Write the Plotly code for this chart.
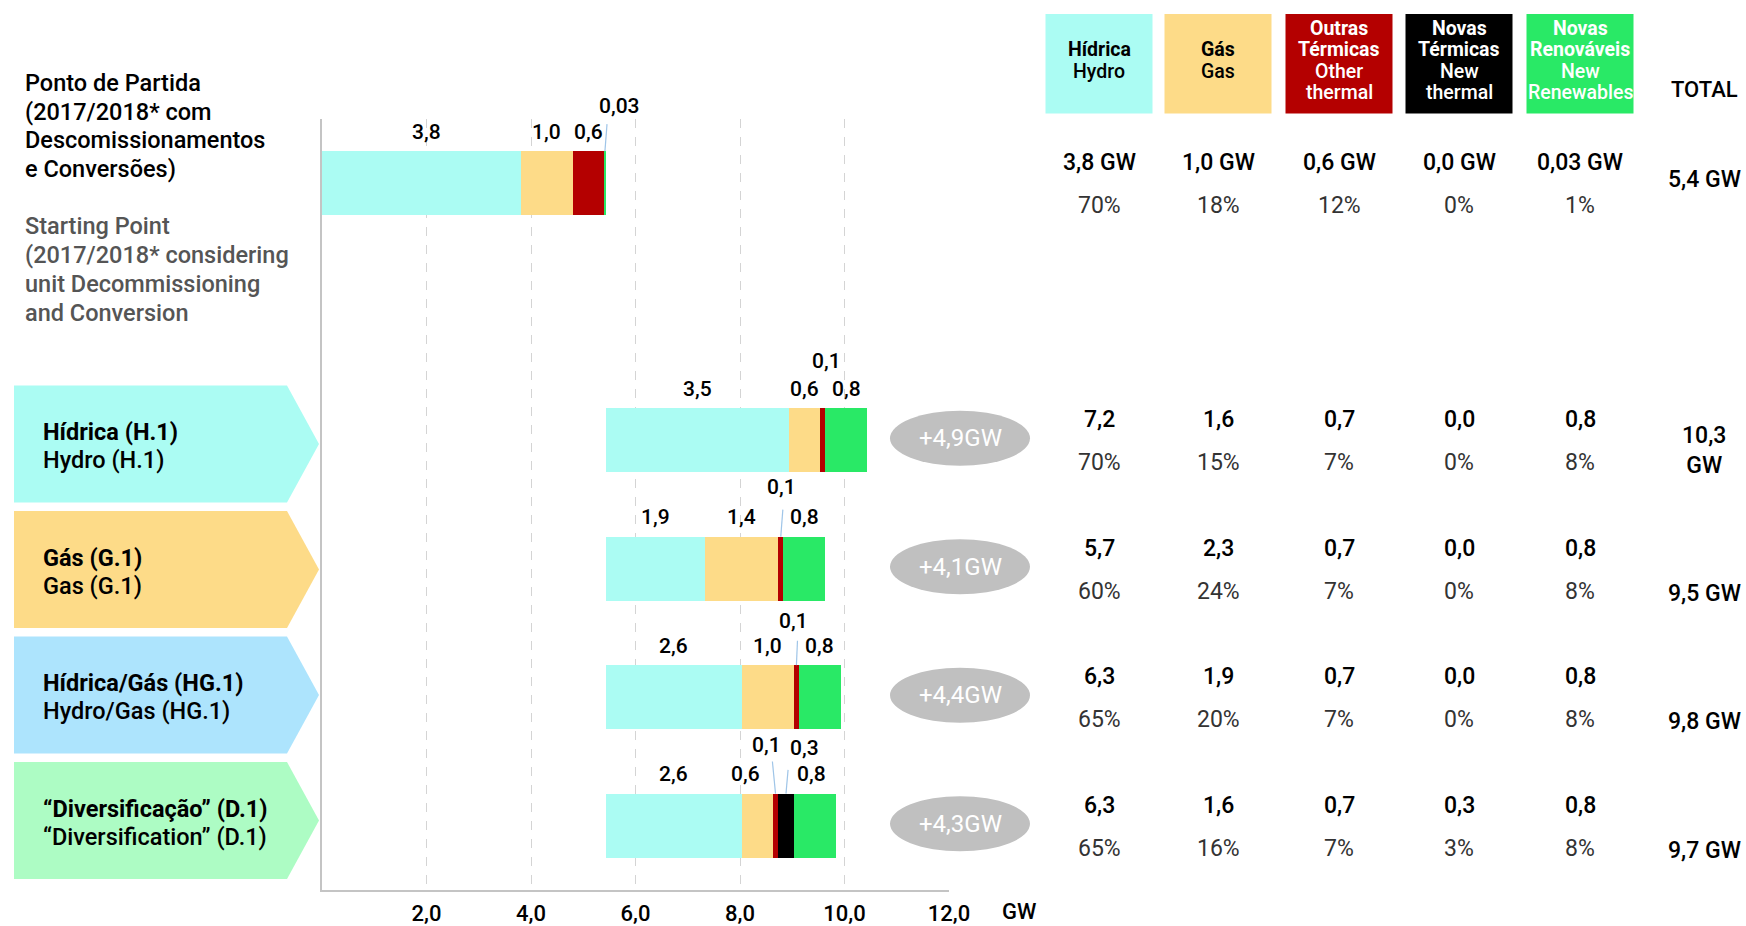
import plotly.graph_objects as go

# ---------------- data ----------------
row_names = ["Ponto de Partida", "Hídrica (H.1)", "Gás (G.1)", "Hídrica/Gás (HG.1)", "Diversificação (D.1)"]
row_pos = [0, 2, 3, 4, 5]

# capacity per technology (GW): starting point, then capacity added in each scenario
hidrica = [3.8, 3.5, 1.9, 2.6, 2.6]
gas = [1.0, 0.6, 1.4, 1.0, 0.6]
outras_termicas = [0.6, 0.1, 0.1, 0.1, 0.1]
novas_termicas = [0.0, 0.0, 0.0, 0.0, 0.3]
novas_renovaveis = [0.03, 0.8, 0.8, 0.8, 0.8]

increments = [4.9, 4.1, 4.4, 4.3]

# resulting capacity table (GW and share)
tab_hidrica = [3.8, 7.2, 5.7, 6.3, 6.3]
tab_gas = [1.0, 1.6, 2.3, 1.9, 1.6]
tab_outras = [0.6, 0.7, 0.7, 0.7, 0.7]
tab_novas_term = [0.0, 0.0, 0.0, 0.0, 0.3]
tab_novas_renov = [0.03, 0.8, 0.8, 0.8, 0.8]
pct_hidrica = [70, 70, 60, 65, 65]
pct_gas = [18, 15, 24, 20, 16]
pct_outras = [12, 7, 7, 7, 7]
pct_novas_term = [0, 0, 0, 0, 3]
pct_novas_renov = [1, 8, 8, 8, 8]
totals = [5.4, 10.3, 9.5, 9.8, 9.7]

x_ticks = [2, 4, 6, 8, 10, 12]
x_tick_labels = ["2,0", "4,0", "6,0", "8,0", "10,0", "12,0"]

# ---------------- style ----------------
FONT = "Roboto, 'Noto Sans', sans-serif"
C_HID, C_GAS, C_OUT, C_NT, C_NR = "#abfcf3", "#fddb88", "#b40000", "#000000", "#29e966"
CHEVRON_COLORS = ["#abfcf3", "#fddb88", "#ade4fd", "#adfcc4"]
LEADER = "#9fc5e8"

W, H = 1746, 926
PL, PR, PT, PB = 322, 949, 119, 890
Y_RANGE = [5.5, -0.5]


def px(xp):
    return (xp - PL) / (PR - PL)


def py(yp):
    return (PB - yp) / (PB - PT)


def y_paper(y):
    # category-axis value -> paper fraction (reversed axis)
    return (Y_RANGE[0] - y) / (Y_RANGE[0] - Y_RANGE[1])


def row_px(r):
    # pixel centre of a category row
    return PT + (r - Y_RANGE[1]) * (PB - PT) / (Y_RANGE[0] - Y_RANGE[1])


def fmt(v):
    s = f"{v:.2f}" if 0 < v < 0.1 else f"{v:.1f}"
    return s.replace(".", ",")


fig = go.Figure()


def note(x, y, text, size, color="#000", xref="paper", yref="paper", xanchor="center", weight=500):
    fig.add_annotation(x=x, y=y, xref=xref, yref=yref, text=text, showarrow=False,
                       xanchor=xanchor, yanchor="middle",
                       font=dict(size=size, color=color, weight=weight))


series = [
    (hidrica, C_HID),
    (gas, C_GAS),
    (outras_termicas, C_OUT),
    (novas_termicas, C_NT),
    (novas_renovaveis, C_NR),
]

start_total = sum(v[0] for v, _ in series)
base = [0.0] + [start_total] * (len(row_pos) - 1)
segments = []  # (row index, series index, left, value)
for si, (vals, color) in enumerate(series):
    fig.add_trace(go.Bar(
        y=row_pos, x=vals, base=base, orientation="h", width=0.5,
        marker=dict(color=color, line=dict(width=0)),
        hoverinfo="skip", showlegend=False,
    ))
    for ri, (b, v) in enumerate(zip(base, vals)):
        segments.append((ri, si, b, v))
    base = [b + v for b, v in zip(base, vals)]

# value labels above each segment; thin segments get raised labels with leader lines
label_tweaks = {
    (0, 4): dict(dx=0.28, dy=-0.60, lead=(0.04, -0.46)),
    (1, 2): dict(dx=0.08, dy=-0.62),
    (2, 2): dict(dx=0.02, dy=-0.64, lead=(0.04, -0.46)),
    (3, 2): dict(dx=-0.06, dy=-0.59, lead=(0.02, -0.44)),
    (4, 2): dict(dx=-0.17, dy=-0.63, lead=(-0.06, -0.50)),
    (4, 3): dict(dx=0.35, dy=-0.605, lead=(0.04, -0.435)),
    (4, 1): dict(dx=-0.22),
    (4, 4): dict(dx=-0.06),
    (0, 0): dict(dx=0.1),
}
for ri, si, left, v in segments:
    if v <= 0:
        continue
    t = label_tweaks.get((ri, si), {})
    centre = left + v / 2
    y = row_pos[ri]
    note(centre + t.get("dx", 0), y_paper(y + t.get("dy", -0.40)), fmt(v), 21, xref="x")
    if "lead" in t:
        lx, ly = t["lead"]
        fig.add_shape(type="line", xref="x", yref="y", x0=centre + lx, y0=y + ly, x1=centre, y1=y - 0.25,
                      line=dict(color=LEADER, width=1.2))

# increment ellipses to the right of the scenario bars
for k, inc in enumerate(increments):
    yc = row_px(row_pos[k + 1]) - 2
    fig.add_shape(type="circle", xref="paper", yref="paper",
                  x0=px(890), x1=px(1030), y0=py(yc + 27.5), y1=py(yc - 27.5),
                  fillcolor="#c0c0c0", line=dict(width=0), layer="above")
    note(px(960), py(yc), "+" + fmt(inc) + "GW", 24, color="#ffffff", weight=400)

# scenario chevrons on the left
chevron_text = [
    ("Hídrica (H.1)", "Hydro (H.1)"),
    ("Gás (G.1)", "Gas (G.1)"),
    ("Hídrica/Gás (HG.1)", "Hydro/Gas (HG.1)"),
    ("“Diversificação” (D.1)", "“Diversification” (D.1)"),
]
for k, (pt, en) in enumerate(chevron_text):
    yc = 444 + 125.5 * k
    x0, x1, xt = px(14), px(287), px(319)
    ya, yb, ym = py(yc - 58.5), py(yc + 58.5), py(yc)
    fig.add_shape(type="path", xref="paper", yref="paper",
                  path=f"M {x0},{ya} L {x1},{ya} L {xt},{ym} L {x1},{yb} L {x0},{yb} Z",
                  fillcolor=CHEVRON_COLORS[k], line=dict(width=0), layer="below")
    note(px(41), py(yc - 12), f"<b>{pt}</b>", 23.5, xanchor="left", weight=700)
    note(px(41), py(yc + 16), en, 23.5, xanchor="left")

# starting point description
intro_pt = ["Ponto de Partida", "(2017/2018* com", "Descomissionamentos", "e Conversões)"]
intro_en = ["Starting Point", "(2017/2018* considering", "unit Decommissioning", "and Conversion"]
for i, line in enumerate(intro_pt):
    note(px(23), py(83 + 28.6 * i), line, 23.5, xanchor="left")
for i, line in enumerate(intro_en):
    note(px(23), py(226 + 28.9 * i), line, 23.5, color="#555555", xanchor="left")

# table header boxes
col_cx = [1099, 1218, 1339, 1459, 1580]
headers = [
    ([("Hídrica", True), ("Hydro", False)], C_HID, "#000"),
    ([("Gás", True), ("Gas", False)], C_GAS, "#000"),
    ([("Outras", True), ("Térmicas", True), ("Other", False), ("thermal", False)], C_OUT, "#fff"),
    ([("Novas", True), ("Térmicas", True), ("New", False), ("thermal", False)], C_NT, "#fff"),
    ([("Novas", True), ("Renováveis", True), ("New", False), ("Renewables", False)], C_NR, "#fff"),
]
for cx, (lines, fill, tcol) in zip(col_cx, headers):
    fig.add_shape(type="rect", xref="paper", yref="paper",
                  x0=px(cx - 53.5), x1=px(cx + 53.5), y0=py(113.5), y1=py(14),
                  fillcolor=fill, line=dict(width=0))
    n = len(lines)
    for j, (txt, bold) in enumerate(lines):
        yl = 60.5 + (j - (n - 1) / 2) * 21.5
        note(px(cx), py(yl), f"<b>{txt}</b>" if bold else txt, 19.5, color=tcol,
             weight=700 if bold else 500)
note(px(1704), py(90), "TOTAL", 22)

# table body
tab_vals = [tab_hidrica, tab_gas, tab_outras, tab_novas_term, tab_novas_renov]
tab_pcts = [pct_hidrica, pct_gas, pct_outras, pct_novas_term, pct_novas_renov]
for ri, r in enumerate(row_pos):
    suffix = " GW" if ri == 0 else ""
    for cx, vals, pcts in zip(col_cx, tab_vals, tab_pcts):
        note(px(cx), y_paper(r - 0.16), fmt(vals[ri]) + suffix, 23)
        note(px(cx), y_paper(r + 0.175), f"{pcts[ri]}%", 23, color="#333333", weight=400)
    tot = totals[ri]
    if ri == 0:
        txt, ty = fmt(tot) + " GW", r - 0.03
    elif tot >= 10:
        txt, ty = fmt(tot) + "<br>GW", r + 0.08
    else:
        txt, ty = fmt(tot) + " GW", r + 0.19
    note(px(1704), y_paper(ty), txt, 23)

note(px(1019), py(912), "GW", 22)

fig.update_layout(
    width=W, height=H,
    margin=dict(l=PL, r=W - PR, t=PT, b=H - PB, pad=0, autoexpand=False),
    paper_bgcolor="#ffffff", plot_bgcolor="#ffffff",
    barmode="overlay", bargap=0,
    font=dict(family=FONT, color="#000"),
    showlegend=False,
    xaxis=dict(range=[0, 12], tickvals=x_ticks, ticktext=x_tick_labels, automargin=False,
               showgrid=True, gridcolor="#d4d4d4", griddash="dash", gridwidth=1,
               zeroline=False, showline=True, linecolor="#c4c4c4", linewidth=1.5,
               ticks="", ticklabelstandoff=3,
               tickfont=dict(size=22, color="#000", weight=500), fixedrange=True),
    yaxis=dict(range=Y_RANGE, showticklabels=False, showgrid=False, zeroline=False,
               automargin=False,
               showline=True, linecolor="#c4c4c4", linewidth=1.5, ticks="", fixedrange=True),
)

fig.write_html("out.html", config={"displayModeBar": False})
